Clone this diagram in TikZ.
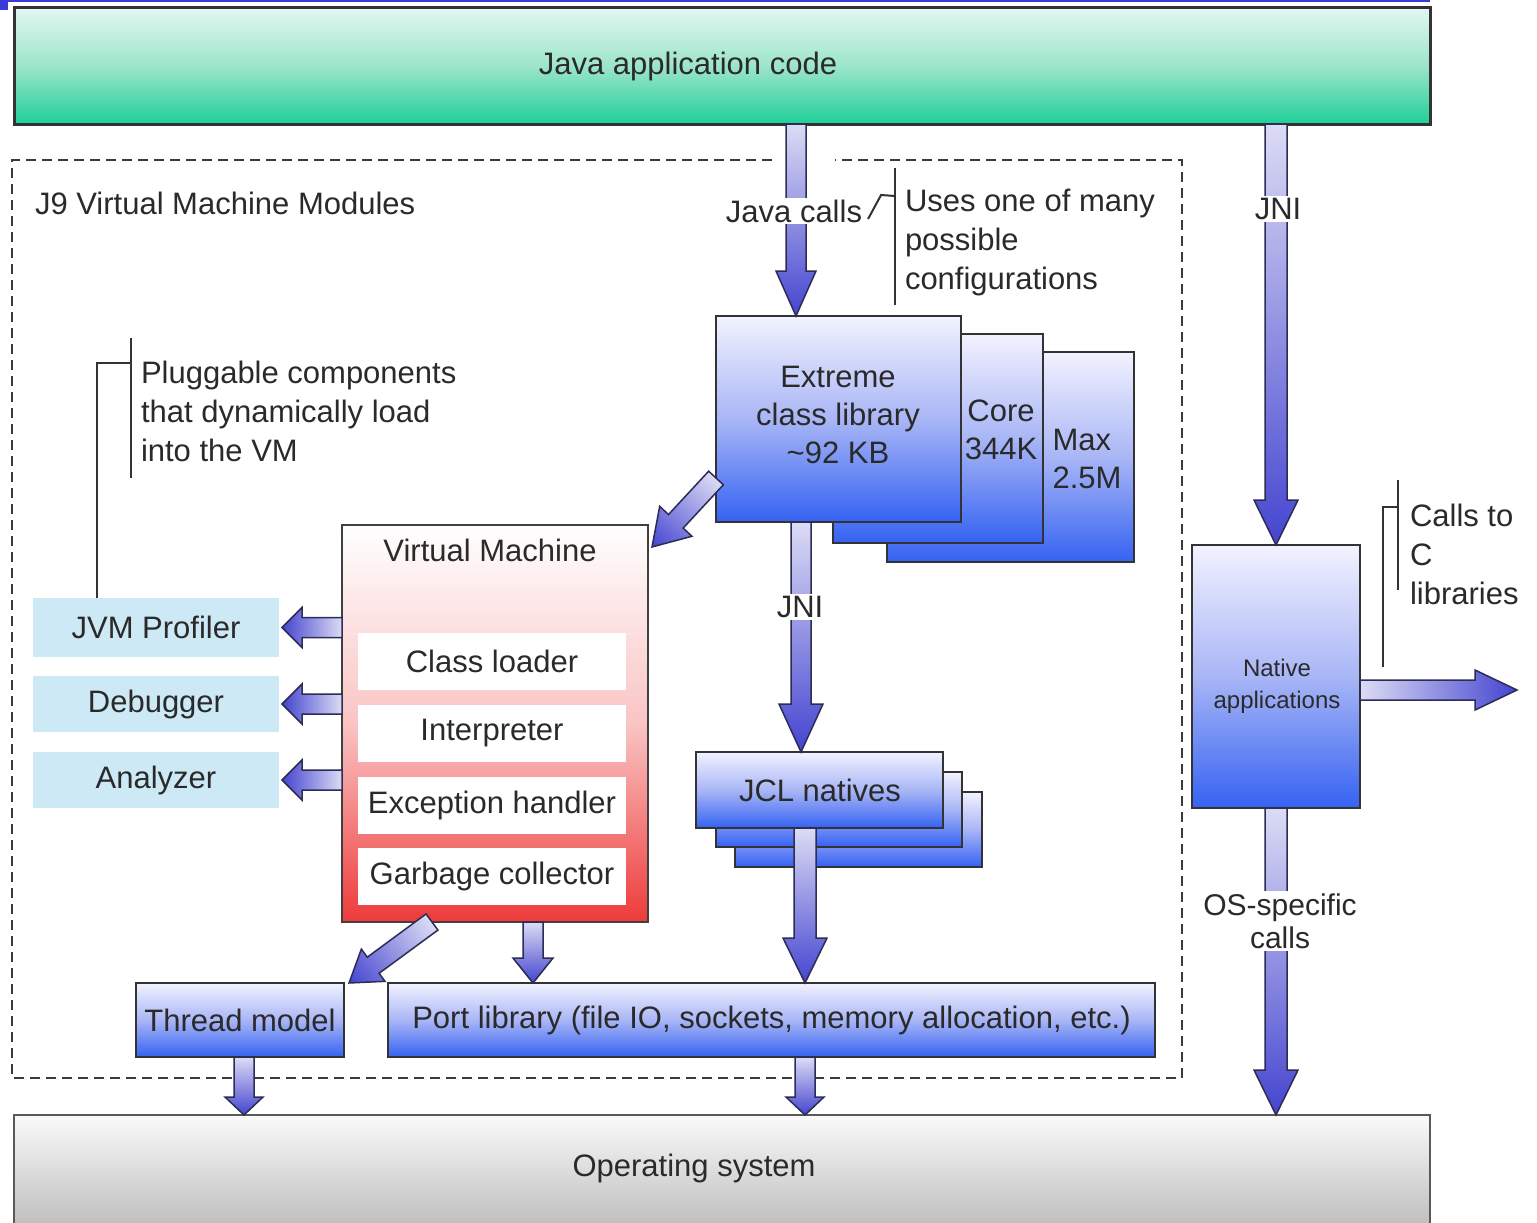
\documentclass[tikz,border=0pt]{standalone}
\usepackage{fontspec}
\setmainfont{Liberation Sans}
\usetikzlibrary{calc}
\definecolor{txt}{HTML}{2A2A2A}
\definecolor{greentop}{HTML}{E2F7F1}
\definecolor{greenmid}{HTML}{9CE5CA}
\definecolor{greenbot}{HTML}{1FCF98}
\definecolor{bluetop}{HTML}{F2F2FF}
\definecolor{bluemid}{HTML}{A9B6F6}
\definecolor{bluebot}{HTML}{3462F2}
\definecolor{arrlight}{HTML}{DCDCF5}
\definecolor{arrdark}{HTML}{4444D0}
\definecolor{arrline}{HTML}{2C2C55}
\definecolor{redbot}{HTML}{EE3A3A}
\definecolor{redmid}{HTML}{FAC4C4}
\definecolor{plugblue}{HTML}{CDE9F6}
\definecolor{ostop}{HTML}{FAFAFA}
\definecolor{osbot}{HTML}{B4B4B4}
\definecolor{marker}{HTML}{3A3AD8}
\definecolor{dash}{HTML}{3A3A3A}
\newcommand\myfs[2]{\fontsize{#1}{#2}\selectfont}
% fat arrow: #1 start, #2 end, #3 shaft half width, #4 head half width, #5 head length
\newcommand\fatarrow[5]{%
  \path #1 coordinate (fasA) #2 coordinate (fasB);
  \pgfpointanchor{fasA}{center}\pgfgetlastxy\faxa\faya
  \pgfpointanchor{fasB}{center}\pgfgetlastxy\faxb\fayb
  \pgfmathsetmacro\faang{atan2(\fayb-\faya,\faxb-\faxa)}%
  \pgfmathsetmacro\falen{veclen(\faxb-\faxa,\fayb-\faya)}%
  \pgfmathsetmacro\fahl{\falen-#5}%
  \begin{scope}[transform canvas={shift={(fasA)},rotate=\faang}]
    \path[fatarr] (0,#3) -- (\fahl,#3) -- (\fahl,#4) -- (\falen,0)
      -- (\fahl,-#4) -- (\fahl,-#3) -- (0,-#3) -- cycle;
  \end{scope}}
\begin{document}
\begin{tikzpicture}[x=1pt,y=-1pt,
  every node/.style={inner sep=0pt,outer sep=0pt,text=txt},
  lbl/.style={font=\myfs{31}{38}},
  greenbar/.style={draw=black!80,line width=3,top color=greentop,bottom color=greenbot,middle color=greenmid,anchor=north west,lbl},
  bluebox/.style={draw=black!80,line width=2,top color=bluetop,bottom color=bluebot,middle color=bluemid,anchor=north west,lbl},
  vmbox/.style={draw=black!75,line width=2,top color=white,bottom color=redbot,middle color=redmid,anchor=north west,lbl},
  inbox/.style={fill=white,anchor=north west,lbl},
  plugbox/.style={fill=plugblue,anchor=north west,lbl},
  osbox/.style={draw=black!65,line width=2.5,top color=ostop,bottom color=osbot,anchor=north west},
  fatarr/.style={draw=arrline,line width=1.5,left color=arrlight,right color=arrdark},
  callout/.style={draw=black!80,line width=2},
  dashline/.style={draw=dash,line width=2.2,dash pattern=on 10pt off 6pt},
  wlabel/.style={lbl,fill=white,inner sep=2pt}]
\useasboundingbox (0,0) rectangle (1537,1223);
\fill[white] (0,0) rectangle (1537,1223);
% top-left marker
\fill[marker] (0,0) rectangle (1430,2.5);
\fill[marker] (0,0) rectangle (8,10);
% dashed module frame
\path[dashline] (772,160) -- (12,160) -- (12,1078) -- (1182,1078) -- (1182,160) -- (835,160);
\node[lbl,anchor=west] (j9) at (35,203) {J9 Virtual Machine Modules};
% top and bottom bars
\node[greenbar,minimum width=1416,minimum height=116] (app) at (14,8) {};
\node[lbl] (applbl) at (688,66) {Java application code};
\node[osbox,minimum width=1416,minimum height=130] (os) at (14,1115) {};
\node[lbl] (oslbl) at (694,1168) {Operating system};
% class libraries
\node[bluebox,minimum width=247,minimum height=210] (max) at (887,352) {};
\node[bluebox,minimum width=210,minimum height=209] (core) at (833,334) {};
\node[bluebox,minimum width=245,minimum height=206] (ext) at (716,316) {};
\node[lbl,align=center] (extlbl) at (838,415) {Extreme\\class library\\\textasciitilde92 KB};
\node[lbl,align=center] (corelbl) at (1001,430) {Core\\344K};
\node[lbl,align=left] (maxlbl) at (1087,459) {Max\\2.5M};
% JCL natives
\node[bluebox,minimum width=247,minimum height=75] (jcl3) at (735,792) {};
\node[bluebox,minimum width=246,minimum height=75] (jcl2) at (716,772) {};
\node[bluebox,minimum width=247,minimum height=76] (jcl) at (696,752) {};
\node[lbl] (jcllbl) at (820,790) {JCL natives};
% virtual machine
\node[vmbox,minimum width=306,minimum height=397] (vm) at (342,525) {};
\node[lbl] (vmlbl) at (490,550) {Virtual Machine};
\node[inbox,minimum width=268,minimum height=57] (cl) at (358,633) {Class loader};
\node[inbox,minimum width=268,minimum height=57] (ip) at (358,705) {Interpreter};
\node[inbox,minimum width=268,minimum height=57] (eh) at (358,777) {Exception handler};
\node[inbox,minimum width=268,minimum height=57] (gc) at (358,848) {Garbage collector};
% pluggable components
\node[plugbox,minimum width=246,minimum height=59] (prof) at (33,598) {JVM Profiler};
\node[plugbox,minimum width=246,minimum height=56] (dbg) at (33,676) {Debugger};
\node[plugbox,minimum width=246,minimum height=56] (ana) at (33,752) {Analyzer};
% lower boxes
\node[bluebox,minimum width=208,minimum height=74] (thr) at (136,983) {Thread model};
\node[bluebox,minimum width=767,minimum height=74] (port) at (388,983) {Port library (file IO, sockets, memory allocation, etc.)};
% native applications
\node[bluebox,minimum width=168,minimum height=263] (nat) at (1192,545) {};
\node[align=center,font=\myfs{24}{32}] (natlbl) at (1277,686) {Native\\applications};
% fat arrows
\fatarrow{(app.south -| 796,0)}{(ext.north -| 796,0)}{10}{20}{45}
\fatarrow{(app.south -| nat.north)}{(nat.north)}{11}{22}{45}
\fatarrow{(ext.west |- 0,478)}{($(vm.north east)+(4,22)$)}{10}{22}{35}
\fatarrow{(ext.south -| 801,0)}{(jcl.north -| 801,0)}{10}{22}{48}
\fatarrow{(jcl.south -| 805,0)}{(port.north -| 805,0)}{11}{22}{45}
\fatarrow{(vm.west |- prof)}{($(prof.east)+(3,0)$)}{10}{20}{20}
\fatarrow{(vm.west |- dbg)}{($(dbg.east)+(3,0)$)}{10}{20}{20}
\fatarrow{(vm.west |- ana)}{($(ana.east)+(3,0)$)}{10}{20}{20}
\fatarrow{($(vm.south west)+(90,0)$)}{($(thr.north east)+(5,0)$)}{10}{20}{30}
\fatarrow{(vm.south -| 533,0)}{(port.north -| 533,0)}{10}{20}{25}
\fatarrow{(thr.south -| 244,0)}{(os.north -| 244,0)}{10}{19}{18}
\fatarrow{(port.south -| 805,0)}{(os.north -| 805,0)}{10}{19}{18}
\coordinate (cext) at (1517,690);
\fatarrow{(nat.east |- cext)}{(cext)}{10}{20}{42}
\fatarrow{(nat.south)}{(os.north -| nat.south)}{11}{22}{45}
% arrow labels
\node[wlabel] (jcalls) at (794,211) {Java calls};
\node[wlabel] (jni1) at (800,607) {JNI};
\node[wlabel] (jni2) at (1278,209) {JNI};
\node[wlabel,align=center,font=\myfs{30}{33}] (osc) at (1280,921) {OS-specific\\calls};
% callouts
\node[lbl,align=left,anchor=north west,font=\myfs{31}{39}] (uses) at (905,189) {Uses one of many\\possible\\configurations};
\draw[callout] (jcalls.east) ++(4,8) -- ++(13,-24) -- (895,196);
\draw[callout] (895,168) -- (895,305);
\node[lbl,align=left,anchor=north west,font=\myfs{31}{39}] (plug) at (141,361) {Pluggable components\\that dynamically load\\into the VM};
\draw[callout] (131,338) -- (131,478);
\draw[callout] (prof.north -| 97,0) -- (97,363) -- (131,363);
\node[lbl,align=left,anchor=north west,font=\myfs{31}{39}] (callsc) at (1410,504) {Calls to\\C\\libraries};
\draw[callout] (1398,480) -- (1398,590);
\draw[callout] (1383,667) -- (1383,507) -- (1398,507);
\end{tikzpicture}
\end{document}
